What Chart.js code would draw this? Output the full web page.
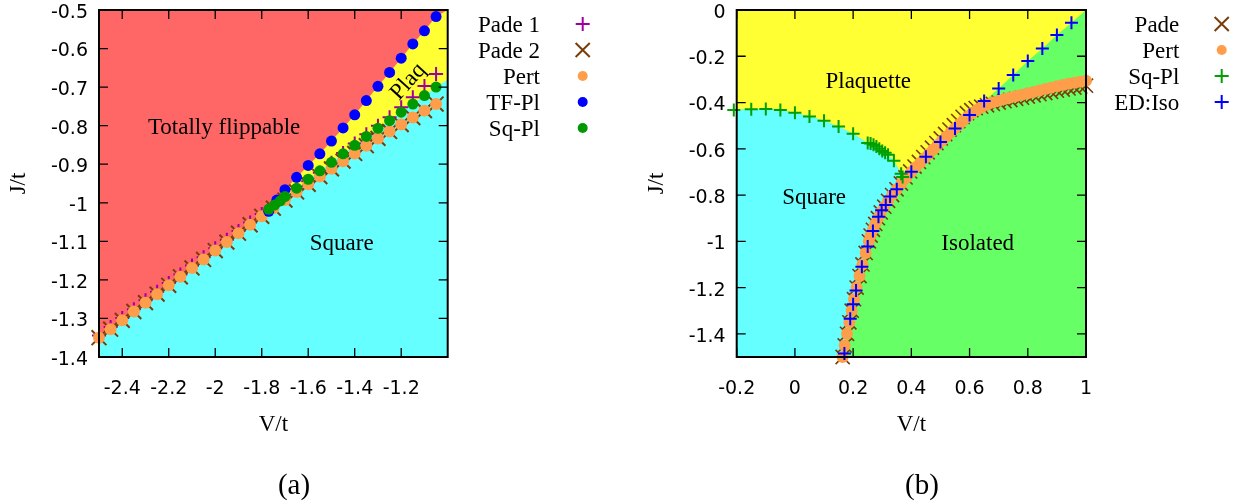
<!DOCTYPE html>
<html><head><meta charset="utf-8">
<script src="https://cdn.jsdelivr.net/npm/chart.js@4/dist/chart.umd.min.js"></script>
<style>
html,body{margin:0;padding:0;background:#fff;}
#wrap{position:relative;width:1250px;height:503px;overflow:hidden;}
.pane{position:absolute;top:0;width:625px;height:503px;}
</style></head><body>
<div id="wrap">
<div class="pane" style="left:0"><canvas id="ca" width="625" height="503"></canvas></div>
<div class="pane" style="left:625px"><canvas id="cb" width="625" height="503"></canvas></div>
</div>
<script>
// ================= Panel (a) data =================
const vA      = [-2.50,-2.45,-2.40,-2.35,-2.30,-2.25,-2.20,-2.15,-2.10,-2.05,-2.00,-1.95,-1.90,-1.85,-1.80,-1.75,-1.70,-1.65,-1.60,-1.55,-1.50,-1.45,-1.40,-1.35,-1.30,-1.25,-1.20,-1.15,-1.10,-1.05];
const pade1A  = [-1.344,-1.322,-1.299,-1.276,-1.253,-1.231,-1.208,-1.186,-1.163,-1.141,-1.118,-1.096,-1.073,-1.051,-1.029,-1.007,-0.985,-0.965,-0.944,-0.922,-0.896,-0.871,-0.846,-0.822,-0.800,-0.778,-0.752,-0.726,-0.697,-0.666];
const pade2A  = [-1.350,-1.328,-1.305,-1.282,-1.259,-1.237,-1.214,-1.192,-1.169,-1.147,-1.124,-1.102,-1.079,-1.057,-1.035,-1.014,-0.993,-0.972,-0.952,-0.932,-0.912,-0.892,-0.872,-0.852,-0.833,-0.815,-0.797,-0.779,-0.761,-0.744];
const pertA   = [-1.350,-1.328,-1.305,-1.282,-1.259,-1.237,-1.214,-1.192,-1.169,-1.147,-1.124,-1.102,-1.079,-1.057,-1.035,-1.014,-0.993,-0.972,-0.952,-0.932,-0.912,-0.892,-0.872,-0.852,-0.833,-0.815,-0.797,-0.779,-0.761,-0.744];
const tfplA_V = [-1.77,-1.735,-1.70,-1.65,-1.60,-1.55,-1.50,-1.45,-1.40,-1.35,-1.30,-1.25,-1.20,-1.15,-1.10,-1.05];
const tfplA_J = [-1.022,-0.993,-0.966,-0.934,-0.903,-0.873,-0.840,-0.806,-0.772,-0.735,-0.698,-0.662,-0.625,-0.588,-0.554,-0.517];
const sqplA_V = [-1.77,-1.745,-1.72,-1.70,-1.65,-1.60,-1.55,-1.50,-1.45,-1.40,-1.35,-1.30,-1.25,-1.20,-1.15,-1.10,-1.05];
const sqplA_J = [-1.017,-1.006,-0.995,-0.984,-0.962,-0.939,-0.917,-0.895,-0.873,-0.851,-0.828,-0.807,-0.787,-0.765,-0.744,-0.722,-0.700];
const xTicksA      = [-2.4,-2.2,-2.0,-1.8,-1.6,-1.4,-1.2];
const xTickLabelsA = ['-2.4','-2.2','-2','-1.8','-1.6','-1.4','-1.2'];
const yTicksA      = [-1.4,-1.3,-1.2,-1.1,-1.0,-0.9,-0.8,-0.7,-0.6,-0.5];
const yTickLabelsA = ['-1.4','-1.3','-1.2','-1.1','-1','-0.9','-0.8','-0.7','-0.6','-0.5'];
const rangeA = {xMin:-2.5, xMax:-1.0, yMin:-1.4, yMax:-0.5};
const pertSplitA = -1.80;      // where the Pert boundary hands over to TF-Pl / Sq-Pl
const cyanRightEdgeA = -0.68;  // Square/Plaq boundary value at right edge
const regionLabelsA = [
  {text:'Totally flippable', v:-1.962, j:-0.805, rot:0},
  {text:'Square', v:-1.456, j:-1.107, rot:0},
  {text:'Plaq', v:-1.170, j:-0.686, rot:-48}
];

// ================= Panel (b) data =================
const pertB_V = [0.164,0.171,0.179,0.187,0.195,0.203,0.212,0.222,0.232,0.243,0.254,
  0.260,0.268,0.276,0.285,0.295,0.307,0.320,0.334,0.350,0.366,0.383,0.400,0.415,0.430,0.445,0.460,0.475,0.490,0.505,0.520,0.535,0.550,0.565,0.580,0.595,0.610,0.625,0.640,0.660,0.680,0.700,0.720,0.740,0.760,0.780,0.800,0.820,0.840,0.860,0.880,0.900,0.920,0.940,0.960,0.980,1.000];
const pertB_J = [-1.50,-1.45,-1.40,-1.35,-1.30,-1.25,-1.20,-1.15,-1.10,-1.05,-1.00,
  -0.975,-0.950,-0.925,-0.900,-0.875,-0.850,-0.825,-0.800,-0.775,-0.750,-0.725,-0.700,-0.680,-0.661,-0.641,-0.622,-0.603,-0.584,-0.565,-0.547,-0.529,-0.511,-0.494,-0.476,-0.459,-0.444,-0.432,-0.421,-0.410,-0.400,-0.392,-0.385,-0.378,-0.372,-0.366,-0.360,-0.354,-0.348,-0.342,-0.336,-0.330,-0.324,-0.319,-0.314,-0.310,-0.306];
const padeB_V = [0.164,0.171,0.179,0.187,0.195,0.203,0.212,0.222,0.232,0.243,0.254,
  0.260,0.268,0.276,0.285,0.295,0.307,0.320,0.334,0.349,0.364,0.380,0.396,0.411,0.426,0.441,0.456,0.471,0.486,0.501,0.516,0.531,0.546,0.561,0.576,0.591,0.606,0.621,0.640,0.660,0.680,0.700,0.720,0.740,0.760,0.780,0.800,0.820,0.840,0.860,0.880,0.900,0.920,0.940,0.960,0.980,1.000];
const padeB_J = [-1.50,-1.45,-1.40,-1.35,-1.30,-1.25,-1.20,-1.15,-1.10,-1.05,-1.00,
  -0.975,-0.950,-0.925,-0.900,-0.875,-0.850,-0.825,-0.800,-0.775,-0.750,-0.724,-0.698,-0.677,-0.657,-0.636,-0.615,-0.595,-0.575,-0.555,-0.536,-0.517,-0.498,-0.480,-0.462,-0.446,-0.433,-0.424,-0.418,-0.412,-0.406,-0.400,-0.394,-0.389,-0.384,-0.379,-0.374,-0.369,-0.364,-0.359,-0.354,-0.349,-0.344,-0.339,-0.335,-0.331,-0.327];
const sqplB_V = [-0.21,-0.15,-0.10,-0.05,0.00,0.05,0.10,0.15,0.20,0.25,0.26,0.27,0.28,0.29,0.30,0.31,0.32,0.34,0.365,0.37];
const sqplB_J = [-0.432,-0.429,-0.428,-0.432,-0.444,-0.460,-0.479,-0.504,-0.535,-0.575,-0.577,-0.582,-0.590,-0.600,-0.609,-0.617,-0.626,-0.652,-0.708,-0.722];
const edisoB_V = [0.170,0.190,0.200,0.210,0.230,0.250,0.268,0.287,0.298,0.312,0.327,0.350,0.400,0.450,0.500,0.550,0.600,0.650,0.700,0.750,0.800,0.850,0.900,0.950];
const edisoB_J = [-1.485,-1.335,-1.272,-1.212,-1.110,-1.022,-0.955,-0.894,-0.866,-0.843,-0.806,-0.775,-0.699,-0.634,-0.571,-0.512,-0.454,-0.393,-0.339,-0.281,-0.221,-0.166,-0.108,-0.055];
const xTicksB      = [-0.2,0,0.2,0.4,0.6,0.8,1.0];
const xTickLabelsB = ['-0.2','0','0.2','0.4','0.6','0.8','1'];
const yTicksB      = [-1.4,-1.2,-1.0,-0.8,-0.6,-0.4,-0.2,0];
const yTickLabelsB = ['-1.4','-1.2','-1','-0.8','-0.6','-0.4','-0.2','0'];
const rangeB = {xMin:-0.2, xMax:1.0, yMin:-1.5, yMax:0};
const triplePointJ = -0.72;
const regionLabelsB = [
  {text:'Plaquette', v:0.252, j:-0.31, rot:0},
  {text:'Square', v:0.066, j:-0.814, rot:0},
  {text:'Isolated', v:0.628, j:-1.012, rot:0}
];

// ================= helpers =================
const pts = (xs, ys) => xs.map((x, i) => ({x, y: ys[i]}));
const COL = {red:'#ff6666', cyan:'#66ffff', yellow:'#ffff33', green:'#66ff66',
  purple:'#a000a0', brown:'#7a3d0a', orange:'#ff9e4a', blue:'#0000ff', dgreen:'#009900', pgreen:'#00a000'};
const SERIF = '"Liberation Serif", "Times New Roman", serif';
const SANS = '"DejaVu Sans", sans-serif';

function regionDS(data, color) {
  return {data, showLine:true, fill:'shape', backgroundColor:color, borderColor:'rgba(0,0,0,0)',
    borderWidth:0, pointRadius:0, order:10, isRegion:true};
}
function markerDS(label, data, style, color, radius, order, bw) {
  const isLine = style !== 'circle';
  return {label, data, showLine:false, pointStyle:style, pointRadius:radius, pointHoverRadius:radius,
    pointBackgroundColor: isLine ? 'rgba(0,0,0,0)' : color, pointBorderColor: color,
    pointBorderWidth: isLine ? (bw || 2) : 0, clip:false, order, legend:true};
}
function drawMarker(ctx, style, x, y, r, color, bw) {
  ctx.save();
  ctx.strokeStyle = color; ctx.fillStyle = color; ctx.lineWidth = bw;
  ctx.beginPath();
  if (style === 'circle') { ctx.arc(x, y, r, 0, Math.PI*2); ctx.fill(); }
  else if (style === 'cross') { ctx.moveTo(x-r,y); ctx.lineTo(x+r,y); ctx.moveTo(x,y-r); ctx.lineTo(x,y+r); ctx.stroke(); }
  else { const d = r*Math.SQRT1_2; ctx.moveTo(x-d,y-d); ctx.lineTo(x+d,y+d); ctx.moveTo(x-d,y+d); ctx.lineTo(x+d,y-d); ctx.stroke(); }
  ctx.restore();
}

function panelPlugin(p) {
  return {
    id: 'panel' + p.caption,
    beforeDatasetsDraw(chart) {
      const {ctx, chartArea: a} = chart;
      ctx.save(); ctx.fillStyle = p.bg; ctx.fillRect(a.left, a.top, a.right - a.left, a.bottom - a.top); ctx.restore();
    },
    afterDatasetsDraw(chart) {
      const {ctx, chartArea: a} = chart;
      const xs = chart.scales.x, ys = chart.scales.y;
      ctx.save();
      ctx.fillStyle = '#000'; ctx.font = '23px ' + SERIF; ctx.textAlign = 'center'; ctx.textBaseline = 'middle';
      p.labels.forEach(l => {
        ctx.save();
        ctx.translate(xs.getPixelForValue(l.v), ys.getPixelForValue(l.j));
        ctx.rotate(l.rot * Math.PI / 180);
        ctx.fillText(l.text, 0, 0);
        ctx.restore();
      });
      ctx.strokeStyle = '#000'; ctx.lineWidth = 1.3; ctx.beginPath();
      xs.ticks.forEach(t => { const px = xs.getPixelForValue(t.value);
        ctx.moveTo(px, a.bottom); ctx.lineTo(px, a.bottom - 9); ctx.moveTo(px, a.top); ctx.lineTo(px, a.top + 9); });
      ys.ticks.forEach(t => { const py = ys.getPixelForValue(t.value);
        ctx.moveTo(a.left, py); ctx.lineTo(a.left + 9, py); ctx.moveTo(a.right, py); ctx.lineTo(a.right - 9, py); });
      ctx.stroke();
      ctx.lineWidth = 2; ctx.strokeRect(a.left, a.top, a.right - a.left, a.bottom - a.top);
      const items = chart.data.datasets.filter(d => d.legend);
      ctx.font = '23px ' + SERIF; ctx.textAlign = 'right'; ctx.textBaseline = 'alphabetic'; ctx.fillStyle = '#000';
      items.forEach((d, i) => {
        const y = p.legendTop + i * p.legendStep;
        ctx.fillText(d.label, p.legendTextRight, y + 7.6);
        const r = d.pointStyle === 'circle' ? 5 : (d.pointStyle === 'cross' ? 7 : 10);
        drawMarker(ctx, d.pointStyle, p.legendMarkerX, y, r, d.pointBorderColor, 2);
      });
      ctx.restore();
    },
    afterDraw(chart) {
      const ctx = chart.ctx;
      ctx.save(); ctx.fillStyle = '#000'; ctx.font = '29px ' + SERIF; ctx.textAlign = 'center'; ctx.textBaseline = 'middle';
      ctx.fillText(p.caption, p.captionX, p.captionY); ctx.restore();
    }
  };
}

function scalesFor(r, xt, xl, yt, yl, yAxisW, yTitlePad) {
  const tickFont = {family: SANS, size: 19};
  const titleFont = {family: SERIF, size: 23};
  return {
    x: {type:'linear', min:r.xMin, max:r.xMax,
      afterBuildTicks: s => { s.ticks = xt.map(v => ({value:v})); },
      afterFit: s => { s.height = 82; s.paddingLeft = 0; s.paddingRight = 0; s.paddingTop = 0; s.paddingBottom = 0; },
      grid:{display:false, drawTicks:false}, border:{display:false},
      ticks:{padding:21, autoSkip:false, maxRotation:0, minRotation:0, color:'#000', font:tickFont, callback:(v,i) => xl[i]},
      title:{display:true, text:'V/t', color:'#000', font:titleFont, padding:{top:0, bottom:0}}},
    y: {type:'linear', min:r.yMin, max:r.yMax,
      afterBuildTicks: s => { s.ticks = yt.map(v => ({value:v})); },
      afterFit: s => { s.width = yAxisW; s.paddingLeft = 0; s.paddingRight = 0; s.paddingTop = 0; s.paddingBottom = 0; },
      grid:{display:false, drawTicks:false}, border:{display:false},
      ticks:{padding:11, labelOffset:3, autoSkip:false, color:'#000', font:tickFont, callback:(v,i) => yl[i]},
      title:{display:true, text:'J/t', color:'#000', font:titleFont, padding:{top:yTitlePad, bottom:0}}}
  };
}
const common = {responsive:false, animation:false, devicePixelRatio:1, events:[],
  elements:{line:{tension:0}}, plugins:{legend:{display:false}, tooltip:{enabled:false}}};

// ================= Panel (a) chart =================
{
  const pertPts = pts(vA, pertA);
  const lowPert = pertPts.filter(p => p.x <= pertSplitA + 1e-9);
  const tfPts = pts(tfplA_V, tfplA_J);
  const sqPts = pts(sqplA_V, sqplA_J);
  const redPoly = [{x:rangeA.xMin, y:rangeA.yMax}, ...lowPert, ...tfPts, {x:rangeA.xMax, y:rangeA.yMax}];
  const cyanPoly = [{x:rangeA.xMin, y:rangeA.yMin}, ...lowPert, ...sqPts, {x:rangeA.xMax, y:cyanRightEdgeA}, {x:rangeA.xMax, y:rangeA.yMin}];
  new Chart(document.getElementById('ca'), {
    type:'scatter',
    data:{datasets:[
      regionDS(redPoly, COL.red),
      regionDS(cyanPoly, COL.cyan),
      markerDS('Pade 1', pts(vA, pade1A), 'cross', COL.purple, 7, 5),
      markerDS('Pade 2', pts(vA, pade2A), 'crossRot', COL.brown, 10.5, 4),
      markerDS('Pert', pertPts, 'circle', COL.orange, 6, 3),
      markerDS('TF-Pl', tfPts, 'circle', COL.blue, 5.5, 2),
      markerDS('Sq-Pl', sqPts, 'circle', COL.dgreen, 5.5, 1)
    ]},
    options:Object.assign({}, common, {
      layout:{autoPadding:false, padding:{left:0, top:10, right:177.3, bottom:64}},
      scales: scalesFor(rangeA, xTicksA, xTickLabelsA, yTicksA, yTickLabelsA, 99, 5)
    }),
    plugins:[panelPlugin({bg:COL.yellow, labels:regionLabelsA, caption:'(a)', captionX:294, captionY:486,
      legendTop:24, legendStep:26, legendTextRight:540, legendMarkerX:582.7})]
  });
}

// ================= Panel (b) chart =================
{
  const pertPts = pts(pertB_V, pertB_J);
  const sqPts = pts(sqplB_V, sqplB_J);
  const edPts = pts(edisoB_V, edisoB_J);
  const sqRev = sqPts.slice().reverse();
  const cyanPoly = [{x:rangeB.xMin, y:rangeB.yMin}, ...pertPts.filter(p => p.y <= triplePointJ - 0.004), ...sqRev];
  const yellowPoly = [{x:rangeB.xMin, y:rangeB.yMax}, {x:rangeB.xMax, y:rangeB.yMax},
    ...edPts.filter(p => p.y > triplePointJ).reverse(), ...sqRev];
  new Chart(document.getElementById('cb'), {
    type:'scatter',
    data:{datasets:[
      regionDS(cyanPoly, COL.cyan),
      regionDS(yellowPoly, COL.yellow),
      markerDS('Pade', pts(padeB_V, padeB_J), 'crossRot', COL.brown, 10, 4, 1.6),
      markerDS('Pert', pertPts, 'circle', COL.orange, 6, 3),
      markerDS('Sq-Pl', sqPts, 'cross', COL.pgreen, 6.5, 2),
      markerDS('ED:Iso', edPts, 'cross', COL.blue, 6.5, 1)
    ]},
    options:Object.assign({}, common, {
      layout:{autoPadding:false, padding:{left:0, top:10, right:164, bottom:64}},
      scales: scalesFor(rangeB, xTicksB, xTickLabelsB, yTicksB, yTickLabelsB, 111.7, 18)
    }),
    plugins:[panelPlugin({bg:COL.green, labels:regionLabelsB, caption:'(b)', captionX:297, captionY:486,
      legendTop:24, legendStep:26, legendTextRight:554.3, legendMarkerX:596.7})]
  });
}
</script>
</body></html>
